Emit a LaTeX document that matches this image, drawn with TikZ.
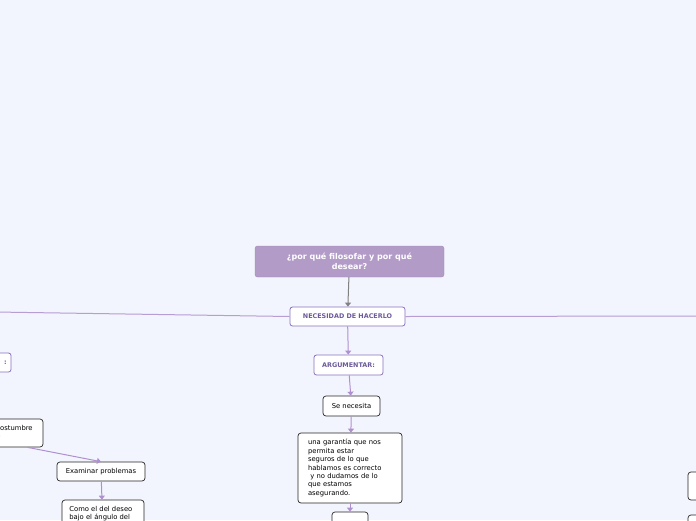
\documentclass[tikz,border=0pt]{standalone}
\usepackage{fontspec}
\setmainfont{DejaVu Sans}
\usetikzlibrary{arrows.meta}
\definecolor{bgc}{HTML}{F3F5FE}
\definecolor{mainfill}{HTML}{B39BC8}
\definecolor{purpb}{HTML}{8A70BC}
\definecolor{purpt}{HTML}{6B5A9B}
\definecolor{linec}{HTML}{B79DD3}
\definecolor{arrowc}{HTML}{B08FD0}
\tikzset{
  mainbox/.style={draw=mainfill!90!black, fill=mainfill, rounded corners=2.5pt, text=white,
    font=\fontsize{8}{9.5}\selectfont\bfseries, align=center, inner sep=0pt},
  subbox/.style={draw=purpb, line width=0.8pt, fill=white, rounded corners=2.5pt, text=purpt,
    font=\fontsize{6.4}{8}\selectfont\bfseries, inner sep=0pt},
  leafbox/.style={draw=black!85, line width=0.7pt, fill=white, rounded corners=3pt, text=black,
    font=\fontsize{6.8}{8.4}\selectfont, inner sep=0pt},
  conn/.style={draw=arrowc, line width=1pt, -{Triangle[width=6pt,length=4pt]}},
  gconn/.style={draw=black!50, line width=1pt, -{Triangle[width=6pt,length=4pt]}},
  branch/.style={draw=linec, line width=1pt}
}
\begin{document}
\begin{tikzpicture}[x=1pt,y=-1pt]
\fill[bgc] (0,0) rectangle (696,520);
\useasboundingbox (0,0) rectangle (696,520);
\clip (0,0) rectangle (696,520);

\coordinate (L) at (-5,312);
\coordinate (R) at (701,316);

\node[mainbox, minimum width=189pt, minimum height=31pt] (main) at (349.5,261.5) {¿por qué filosofar y por qué\\desear?};
\node[subbox, minimum width=115pt, minimum height=19pt] (nec) at (347.5,316.5) {NECESIDAD DE HACERLO};
\node[subbox, minimum width=69pt, minimum height=20pt] (arg) at (348.5,365) {ARGUMENTAR:};
\node[leafbox, minimum width=57pt, minimum height=20pt] (se) at (351.5,406) {Se necesita};
\node[leafbox, minimum width=104pt, minimum height=70pt, align=left, text width=84pt] (gar) at (350,468)
  {una garantía que nos\\permita estar\\seguros de lo que\\hablamos es correcto\\\ y no dudamos de lo\\que estamos\\asegurando.};
\node[leafbox, minimum width=36pt, minimum height=36pt] (po) at (350,530) {};

\node[subbox, minimum width=62pt, minimum height=19pt] (lsub) at (-20,362.5) {};
\node[subbox, anchor=east, fill=none, draw=none, inner sep=0pt] (lsubt) at (7,363) {:};
\node[leafbox, minimum width=103pt, minimum height=28pt] (lb) at (-8.5,433) {};
\node[leafbox, fill=none, draw=none, anchor=north east, align=left] (lbt) at (33,424.5) {costumbre\\e};
\node[leafbox, minimum width=88pt, minimum height=19pt] (ex) at (101,471.5) {Examinar problemas};
\node[leafbox, minimum width=82pt, minimum height=60pt] (como) at (103,530) {};
\node[leafbox, fill=none, draw=none, anchor=north west, align=left] (comot) at (69,506) {Como el del deseo\\bajo el ángulo del};

\node[leafbox, minimum width=104pt, minimum height=28pt] (r1) at (740,486) {};
\node[leafbox, minimum width=104pt, minimum height=28pt] (r2) at (740,529) {};

\draw[gconn] (main) -- (nec);
\draw[branch] (nec.west) -- (L);
\draw[branch] (nec.east) -- (R);
\draw[conn] (nec) -- (arg);
\draw[conn] (arg) -- (se);
\draw[conn] (se) -- (gar);
\draw[conn] (gar) -- (po);
\draw[conn] ([xshift=36pt]lb.south) -- (ex.north);
\draw[conn] (ex) -- (como);
\end{tikzpicture}
\end{document}
